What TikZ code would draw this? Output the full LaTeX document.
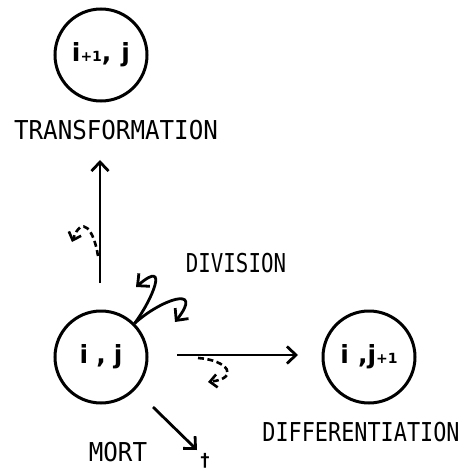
\documentclass[tikz,border=0pt]{standalone}
\usepackage{fontspec}
\setmainfont{DejaVu Sans Mono}
\newfontfamily\cellfont{DejaVu Sans}
\usetikzlibrary{arrows.meta, positioning}
\tikzset{
  cell/.style={circle, draw, line width=3pt, inner sep=0pt, minimum size=92,
    font=\cellfont\fontsize{25}{25}\selectfont\bfseries},
  event/.style={inner sep=0pt, font=\fontsize{26}{26}\selectfont},
  flow/.style={line width=2.8pt, -{Straight Barb[length=9pt,width=17pt]}},
  back/.style={line width=2.6pt, dash pattern=on 6pt off 3.5pt,
    -{Straight Barb[length=7pt,width=13pt]}}
}
\newcommand{\pone}{{\fontsize{14}{14}\selectfont +1}}
\newcommand{\narrow}[2][0.84]{\scalebox{#1}[1]{#2}}

\begin{document}
\begin{tikzpicture}[x=1pt, y=-1pt]
  \fill[white] (0,0) rectangle (462,473);
  \useasboundingbox (0,0) rectangle (462,473);

  % cells
  \node[cell] (ipj) at (101,55) {i\pone,\hspace{10pt}j};
  \node[cell] (ij) at (101,357) {i\hspace{8pt},\hspace{8pt}j};
  \node[cell] (ijp) at (369,357) {i\hspace{9pt},j\pone};

  % labels
  \node[event] (transf) at (116,130) {\narrow[0.93]{TRANSFORMATION}};
  \node[event] (divis) at (236,263) {\narrow[0.8]{DIVISION}};
  \node[event] (diff) at (361,432) {\narrow{DIFFERENTIATION}};
  \node[event] (mort) at (118,452) {\narrow[0.93]{MORT}};
  \node[inner sep=0pt, font=\fontsize{18}{18}\selectfont\bfseries] (dag) at (205,461) {†};

  % arrow ends
  \coordinate (up0) at (100,283);
  \coordinate (up1) at (100,160);
  \coordinate (rt0) at (177,355);
  \coordinate (rt1) at (298,355);
  \coordinate (dn0) at (153,407);
  \coordinate (dn1) at (197,450);

  \draw[flow] (up0) -- (up1);
  \draw[flow] (rt0) -- (rt1);
  \draw[flow] (dn0) -- (dn1);

  % division
  \draw[flow] (ij.45) .. controls (152,300) and (170,258) .. (136,287);
  \draw[flow] (ij.45) .. controls (160,300) and (205,284) .. (175,322);

  % reversions
  \draw[back] (98,256) .. controls (94,230) and (82,214) .. (72,242);
  \draw[back] (198,358) .. controls (228,360) and (240,378) .. (208,382);
\end{tikzpicture}
\end{document}
